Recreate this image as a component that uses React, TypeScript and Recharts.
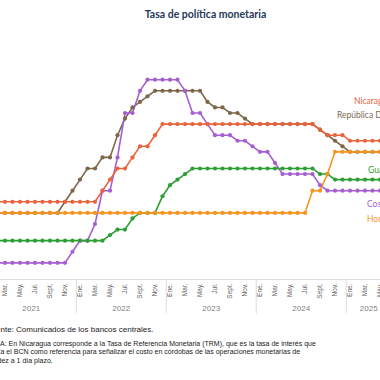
import React from 'react';
import { LineChart, Line, XAxis, YAxis } from 'recharts';

// Monthly data, Jan 2021 (index 0) to Jun 2025 (index 53)
const monthNames = ['Ene.', 'Feb.', 'Mar.', 'Abr.', 'May.', 'Jun.', 'Jul.', 'Ago.', 'Sept.', 'Oct.', 'Nov.', 'Dic.'];
const years = ['2021', '2022', '2023', '2024', '2025'];
const monthsPerYear = [12, 12, 12, 12, 6];

const costaRica = [
  0.75, 0.75, 0.75, 0.75, 0.75, 0.75, 0.75, 0.75, 0.75, 0.75, 0.75, 1.25,
  1.75, 1.75, 2.5, 4.0, 4.0, 5.5, 7.5, 7.5, 8.5, 9.0, 9.0, 9.0,
  9.0, 9.0, 8.5, 7.5, 7.5, 7.0, 6.5, 6.5, 6.5, 6.25, 6.25, 6.0,
  5.75, 5.75, 5.25, 4.75, 4.75, 4.75, 4.75, 4.75, 4.25, 4.0, 4.0, 4.0,
  4.0, 4.0, 4.0, 4.0, 4.0, 4.0,
];
const repDominicana = [
  3.0, 3.0, 3.0, 3.0, 3.0, 3.0, 3.0, 3.0, 3.0, 3.0, 3.5, 4.0,
  4.5, 5.0, 5.0, 5.5, 5.5, 6.5, 7.25, 7.75, 8.0, 8.25, 8.5, 8.5,
  8.5, 8.5, 8.5, 8.5, 8.5, 8.0, 7.75, 7.75, 7.5, 7.5, 7.25, 7.0,
  7.0, 7.0, 7.0, 7.0, 7.0, 7.0, 7.0, 7.0, 6.75, 6.5, 6.25, 6.0,
  5.75, 5.75, 5.75, 5.75, 5.75, 5.75,
];
const nicaragua = [
  3.5, 3.5, 3.5, 3.5, 3.5, 3.5, 3.5, 3.5, 3.5, 3.5, 3.5, 3.5,
  3.5, 3.5, 3.5, 4.0, 4.5, 5.0, 5.0, 5.5, 6.0, 6.0, 6.5, 7.0,
  7.0, 7.0, 7.0, 7.0, 7.0, 7.0, 7.0, 7.0, 7.0, 7.0, 7.0, 7.0,
  7.0, 7.0, 7.0, 7.0, 7.0, 7.0, 7.0, 7.0, 6.75, 6.5, 6.5, 6.5,
  6.25, 6.25, 6.25, 6.25, 6.25, 6.25,
];
const guatemala = [
  1.75, 1.75, 1.75, 1.75, 1.75, 1.75, 1.75, 1.75, 1.75, 1.75, 1.75, 1.75,
  1.75, 1.75, 1.75, 1.75, 2.0, 2.25, 2.25, 2.75, 3.0, 3.0, 3.0, 3.75,
  4.25, 4.5, 4.75, 5.0, 5.0, 5.0, 5.0, 5.0, 5.0, 5.0, 5.0, 5.0,
  5.0, 5.0, 5.0, 5.0, 5.0, 5.0, 5.0, 5.0, 4.75, 4.75, 4.5, 4.5,
  4.5, 4.5, 4.5, 4.5, 4.5, 4.5,
];
const honduras = [
  3.0, 3.0, 3.0, 3.0, 3.0, 3.0, 3.0, 3.0, 3.0, 3.0, 3.0, 3.0,
  3.0, 3.0, 3.0, 3.0, 3.0, 3.0, 3.0, 3.0, 3.0, 3.0, 3.0, 3.0,
  3.0, 3.0, 3.0, 3.0, 3.0, 3.0, 3.0, 3.0, 3.0, 3.0, 3.0, 3.0,
  3.0, 3.0, 3.0, 3.0, 3.0, 3.0, 3.0, 4.0, 4.0, 4.75, 5.75, 5.75,
  5.75, 5.75, 5.75, 5.75, 5.75, 5.75,
];

const seriesNames = ['Nicaragua', 'República Dominicana', 'Guatemala', 'Costa Rica', 'Honduras'];

const footSource = ['Fue', 'nte: Comunicados de los bancos centrales.'];
const footNote = [
  ['NOT', 'A: En Nicaragua corresponde a la Tasa de Referencia Monetaria (TRM), que es la tasa de interés que'],
  ['utiliz', 'a el BCN como referencia para señalizar el costo en córdobas de las operaciones monetarias de'],
  ['liqui', 'dez a 1 día plazo.'],
];

// build table
const rows: any[] = [];
years.forEach((yr, yi) => {
  for (let m = 0; m < monthsPerYear[yi]; m++) {
    const i = rows.length;
    rows.push({
      i,
      m,
      yi,
      month: monthNames[m],
      year: yr,
      cr: costaRica[i],
      dr: repDominicana[i],
      ni: nicaragua[i],
      gt: guatemala[i],
      hn: honduras[i],
    });
  }
});
const lastIndex = rows.length - 1;
const tickIdx = rows.filter((r) => r.m % 2 === 0).map((r) => r.i);

const STEP = 7.5;
const CHART_W = STEP * lastIndex;

const COLORS = {
  ni: '#E8643C',
  dr: '#7E6748',
  gt: '#2E9E36',
  cr: '#A55FD3',
  hn: '#F7941E',
};

const MonthTick = (props: any) => {
  const { x, y, payload } = props;
  const r = rows[payload.value];
  if (!r) return null;
  const n = monthsPerYear[r.yi];
  return (
    <g>
      <text
        transform={`translate(${x + 2.2},${y + 4}) rotate(-90)`}
        textAnchor="end"
        fontSize={6.5}
        fill="#666666"
        fontFamily="'Liberation Sans', Arial, sans-serif"
      >
        {r.month}
      </text>
      {r.m === 0 && (
        <g>
          <line x1={x - STEP / 2} x2={x - STEP / 2} y1={y} y2={y + 34} stroke="#dddddd" strokeWidth={1} />
          <text
            x={x + ((n - 1) * STEP) / 2}
            y={y + 31.5}
            textAnchor="middle"
            fontSize={8}
            fill="#7f7f7f"
            fontFamily="'Liberation Sans', Arial, sans-serif"
          >
            {r.year}
          </text>
        </g>
      )}
    </g>
  );
};

const lineProps = (key: keyof typeof COLORS) => ({
  type: 'linear' as const,
  dataKey: key,
  stroke: COLORS[key],
  strokeWidth: 1.6,
  dot: { r: 2.1, fill: COLORS[key], stroke: COLORS[key], strokeWidth: 0 },
  activeDot: false as const,
  isAnimationActive: false,
});

const seriesLabels = [
  { name: seriesNames[0], color: COLORS.ni, x: 354, y: 104 },
  { name: seriesNames[1], color: '#7a6a58', x: 337, y: 118 },
  { name: seriesNames[2], color: COLORS.gt, x: 368, y: 173 },
  { name: seriesNames[3], color: COLORS.cr, x: 367, y: 206.5 },
  { name: seriesNames[4], color: COLORS.hn, x: 367, y: 222 },
];

export default function App() {
  return (
    <div
      style={{
        position: 'fixed',
        left: 0,
        top: 0,
        width: 380,
        height: 380,
        overflow: 'hidden',
        background: '#ffffff',
      }}
    >
      <div style={{ position: 'absolute', left: -10, top: 0 }}>
        <LineChart
          width={CHART_W}
          height={380}
          data={rows}
          margin={{ top: 57.5, right: 0, bottom: 70.5, left: 0 }}
        >
          <XAxis
            dataKey="i"
            type="number"
            domain={[0, lastIndex]}
            ticks={tickIdx}
            interval={0}
            height={30}
            tickSize={0}
            tickMargin={0}
            tickLine={false}
            axisLine={{ stroke: '#dddddd', strokeWidth: 1 }}
            tick={<MonthTick />}
          />
          <YAxis hide domain={[0, 10]} type="number" />
          <Line {...lineProps('dr')} />
          <Line {...lineProps('cr')} />
          <Line {...lineProps('ni')} />
          <Line {...lineProps('gt')} />
          <Line {...lineProps('hn')} />
        </LineChart>
      </div>
      <svg
        width={380}
        height={380}
        style={{ position: 'absolute', left: 0, top: 0, pointerEvents: 'none' }}
      >
        <text
          x={205.5}
          y={18}
          textAnchor="middle"
          fontSize={10.5}
          fontWeight={700}
          fill="#27395a"
          fontFamily="Lato, 'Open Sans', sans-serif"
        >
          Tasa de política monetaria
        </text>
        {seriesLabels.map((s) => (
          <text
            key={s.name}
            x={s.x}
            y={s.y}
            fontSize={8.5}
            fill={s.color}
            fontFamily="Lato, 'Open Sans', sans-serif"
          >
            {s.name}
          </text>
        ))}
        <g fontFamily="'Liberation Sans', Arial, sans-serif" fill="#1a1a1a">
          <text x={0.5} y={331.5} fontSize={8} textAnchor="end">{footSource[0]}</text>
          <text x={0.5} y={331.5} fontSize={8}>{footSource[1]}</text>
          <text x={0} y={345.5} fontSize={7} textAnchor="end">{footNote[0][0]}</text>
          <text x={0} y={345.5} fontSize={7}>{footNote[0][1]}</text>
          <text x={0.5} y={354.3} fontSize={7} textAnchor="end">{footNote[1][0]}</text>
          <text x={0.5} y={354.3} fontSize={7}>{footNote[1][1]}</text>
          <text x={-2.5} y={363} fontSize={7} textAnchor="end">{footNote[2][0]}</text>
          <text x={-2.5} y={363} fontSize={7}>{footNote[2][1]}</text>
        </g>
      </svg>
    </div>
  );
}
